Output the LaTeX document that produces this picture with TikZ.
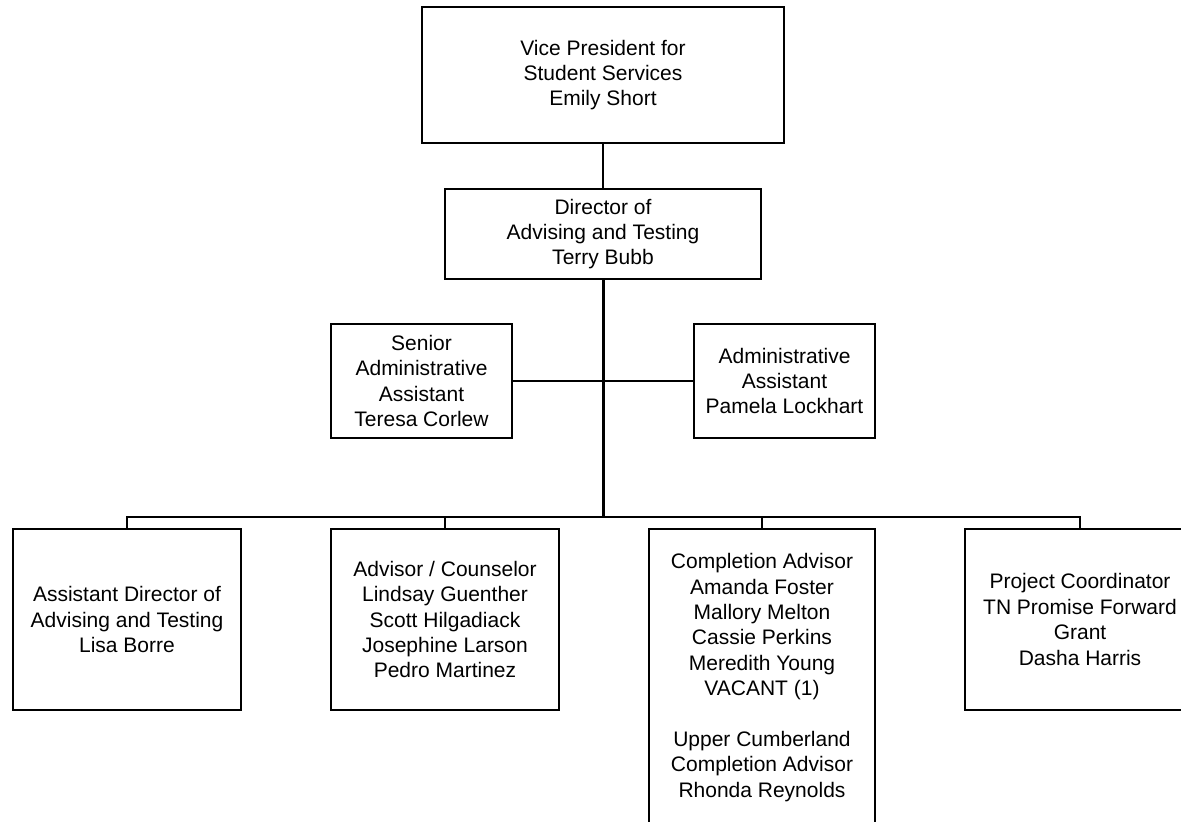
\documentclass[tikz,border=0pt]{standalone}
\usepackage{fontspec}
\setmainfont{Liberation Sans}
\usepackage{tikz}
\usetikzlibrary{positioning, calc}

\begin{document}
\begin{tikzpicture}[
    x=0.5pt, y=-0.5pt,
    every node/.style={align=center, font=\fontsize{10.5}{12.7}\selectfont},
    box/.style={draw, line width=0.9pt, rectangle, inner sep=0pt},
    link/.style={line width=0.7pt},
    trunk/.style={line width=1.5pt}
]
    \useasboundingbox (0,0) rectangle (1181,822);

    % Top levels
    \node[box, minimum width=181pt, minimum height=68pt] (vp) at (603,75) {Vice President for\\Student Services\\Emily Short};
    \node[box, minimum width=158pt, minimum height=45pt] (dir) at (603,234) {Director of\\Advising and Testing\\Terry Bubb};

    % Staff
    \node[box, minimum width=90.5pt, minimum height=57pt] (senior) at (421.5,381) {Senior\\Administrative\\Assistant\\Teresa Corlew};
    \node[box, minimum width=90.5pt, minimum height=57pt] (admin) at (784.5,381) {Administrative\\Assistant\\Pamela Lockhart};

    % Units
    \node[box, minimum width=114pt, minimum height=90.5pt] (asst) at (127,619.5) {Assistant Director of\\Advising and Testing\\Lisa Borre};
    \node[box, minimum width=114pt, minimum height=90.5pt] (advisor) at (445,619.5) {Advisor / Counselor\\Lindsay Guenther\\Scott Hilgadiack\\Josephine Larson\\Pedro Martinez};
    \node[box, minimum width=113pt, minimum height=148.5pt] (compl) at (762,677.5) {Completion Advisor\\Amanda Foster\\Mallory Melton\\Cassie Perkins\\Meredith Young\\VACANT (1)\\[12.7pt]Upper Cumberland\\Completion Advisor\\Rhonda Reynolds};
    \node[box, minimum width=115pt, minimum height=90.5pt] (proj) at (1080,619.5) {Project Coordinator\\TN Promise Forward\\Grant\\Dasha Harris};

    \coordinate (bus) at (603,517);

    % Connections
    \draw[link] (vp.south) -- (dir.north);
    \draw[trunk] (dir.south) -- (bus);
    \draw[link] (senior.east) -- (admin.west);
    \foreach \n in {asst, advisor, compl, proj} {
        \draw[link] (\n.north) |- (bus);
    }
\end{tikzpicture}
\end{document}
